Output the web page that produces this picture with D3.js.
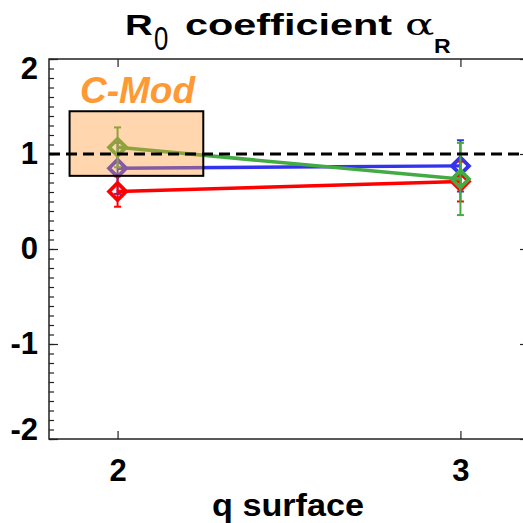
<!DOCTYPE html>
<html lang="en">
<head>
  <meta charset="UTF-8">
  <title>R0 coefficient</title>
  <style>
    body { margin: 0; background: #fff; }
    text { font-family: "Liberation Sans", Arial, sans-serif; }
  </style>
</head>
<body>
  <svg width="523" height="523"></svg>
  <script src="https://d3js.org/d3.v7.min.js"></script>
  <script>
    // values
    const surfaces = [2, 3];
    const blueVals = [0.85, 0.875];
    const blueErr = [0.27, 0.27];
    const redVals = [0.605, 0.71];
    const redErr = [0.16, 0.21];
    const greenVals = [1.07, 0.737];
    const greenErr = [0.21, 0.38];
    const yMajor = [-2, -1, 0, 1, 2];
    const boxX = [1.86, 2.25];
    const boxY = [0.77, 1.45];

    const series = [
      { color: '#3333ee', vals: blueVals, err: blueErr },
      { color: '#ff0000', vals: redVals, err: redErr },
      { color: '#44aa44', vals: greenVals, err: greenErr },
    ];

    const svg = d3.select('svg');
    const margin = { left: 49, top: 59, right: 529, bottom: 439 };

    const x = d3.scaleLinear().domain([1.8, 3.2]).range([margin.left, margin.right]);
    const y = d3.scaleLinear().domain([-2, 2]).range([margin.bottom, margin.top]);

    // frame
    svg.append('rect')
      .attr('x', margin.left).attr('y', margin.top)
      .attr('width', margin.right - margin.left)
      .attr('height', margin.bottom - margin.top)
      .attr('fill', 'none').attr('stroke', '#222').attr('stroke-width', 1.5);

    // y axes (ticks inward)
    const minor = d3.range(-20, 21).map(d => d / 10);
    svg.append('g').attr('transform', `translate(${margin.left},0)`)
      .call(d3.axisLeft(y).tickValues(minor).tickSizeInner(-5).tickSizeOuter(0).tickFormat(''))
      .call(g => g.select('.domain').remove());
    const left = svg.append('g').attr('transform', `translate(${margin.left},0)`)
      .call(d3.axisLeft(y).tickValues(yMajor).tickSizeInner(-9).tickSizeOuter(0).tickPadding(11).tickFormat(d => String(d)))
      .call(g => g.select('.domain').remove());
    left.selectAll('text')
      .attr('font-size', 31).attr('font-weight', 'bold').attr('fill', '#000')
      .attr('y', d => d === 2 ? 10 : d === -2 ? -9 : 0);
    svg.append('g').attr('transform', `translate(${margin.right},0)`)
      .call(d3.axisRight(y).tickValues(minor).tickSizeInner(-5).tickSizeOuter(0).tickFormat(''))
      .call(g => g.select('.domain').remove());
    svg.append('g').attr('transform', `translate(${margin.right},0)`)
      .call(d3.axisRight(y).tickValues(yMajor).tickSizeInner(-9).tickSizeOuter(0).tickFormat(''))
      .call(g => g.select('.domain').remove());

    // x axes
    const bottom = svg.append('g').attr('transform', `translate(0,${margin.bottom})`)
      .call(d3.axisBottom(x).tickValues(surfaces).tickSizeInner(-8).tickSizeOuter(0).tickPadding(20).tickFormat(d => String(d)))
      .call(g => g.select('.domain').remove());
    bottom.selectAll('text').attr('font-size', 31).attr('font-weight', 'bold').attr('fill', '#000');
    svg.append('g').attr('transform', `translate(0,${margin.top})`)
      .call(d3.axisTop(x).tickValues(surfaces).tickSizeInner(-8).tickSizeOuter(0).tickFormat(''))
      .call(g => g.select('.domain').remove());
    svg.selectAll('.tick line').attr('stroke', '#222').attr('stroke-width', 1.2);

    // series
    const line = d3.line().x((d, i) => x(surfaces[i])).y(d => y(d));
    const diamond = 8.5;
    series.forEach(s => {
      svg.append('path').datum(s.vals)
        .attr('d', line)
        .attr('fill', 'none').attr('stroke', s.color).attr('stroke-width', 3.5);
      const g = svg.append('g');
      s.vals.forEach((v, i) => {
        const cx = x(surfaces[i]);
        const lo = y(v - s.err[i]), hi = y(v + s.err[i]);
        g.append('line').attr('x1', cx).attr('x2', cx).attr('y1', lo).attr('y2', hi)
          .attr('stroke', s.color).attr('stroke-width', 2);
        [lo, hi].forEach(yy => g.append('line')
          .attr('x1', cx - 3.5).attr('x2', cx + 3.5).attr('y1', yy).attr('y2', yy)
          .attr('stroke', s.color).attr('stroke-width', 2));
        const cy = y(v);
        g.append('path')
          .attr('d', `M${cx - diamond},${cy}L${cx},${cy - diamond}L${cx + diamond},${cy}L${cx},${cy + diamond}Z`)
          .attr('fill', 'none').attr('stroke', s.color).attr('stroke-width', 3.8);
      });
    });

    // translucent C-Mod box drawn over the data
    svg.append('rect')
      .attr('x', x(boxX[0])).attr('y', y(boxY[1]))
      .attr('width', x(boxX[1]) - x(boxX[0]))
      .attr('height', y(boxY[0]) - y(boxY[1]))
      .attr('fill', 'rgba(255,153,51,0.4)').attr('stroke', '#000').attr('stroke-width', 2);

    // reference line at 1
    svg.append('line')
      .attr('x1', x(1.8)).attr('x2', x(3.2)).attr('y1', y(1)).attr('y2', y(1))
      .attr('stroke', '#000').attr('stroke-width', 3).attr('stroke-dasharray', '11,6');

    svg.append('text')
      .attr('x', 80).attr('y', 103)
      .attr('font-size', 37).attr('font-weight', 'bold').attr('font-style', 'italic')
      .attr('fill', '#ff9933').text('C-Mod');

    // title, pieces stretched sideways like in the picture
    const titleParts = [
      { t: 'R', x: 125, y: 35, size: 30, sx: 1.28, bold: true },
      { t: '0', x: 154, y: 50, size: 33, sx: 0.78, bold: false },
      { t: 'coefficient', x: 185, y: 35, size: 30, sx: 1.38, bold: true },
      { t: 'α', x: 405, y: 35, size: 30, sx: 1.45, bold: false, serif: true },
      { t: 'R', x: 434, y: 53, size: 21, sx: 1.1, bold: true },
    ];
    titleParts.forEach(p => {
      svg.append('text')
        .attr('transform', `translate(${p.x},${p.y}) scale(${p.sx},1)`)
        .attr('font-size', p.size)
        .attr('font-weight', p.bold ? 'bold' : 'normal')
        .style('font-family', p.serif ? '"DejaVu Serif", serif' : null)
        .text(p.t);
    });

    svg.append('text')
      .attr('x', 212).attr('y', 516)
      .attr('font-size', 32).attr('font-weight', 'bold')
      .attr('textLength', 152).attr('lengthAdjust', 'spacingAndGlyphs')
      .text('q surface');
  </script>
</body>
</html>
